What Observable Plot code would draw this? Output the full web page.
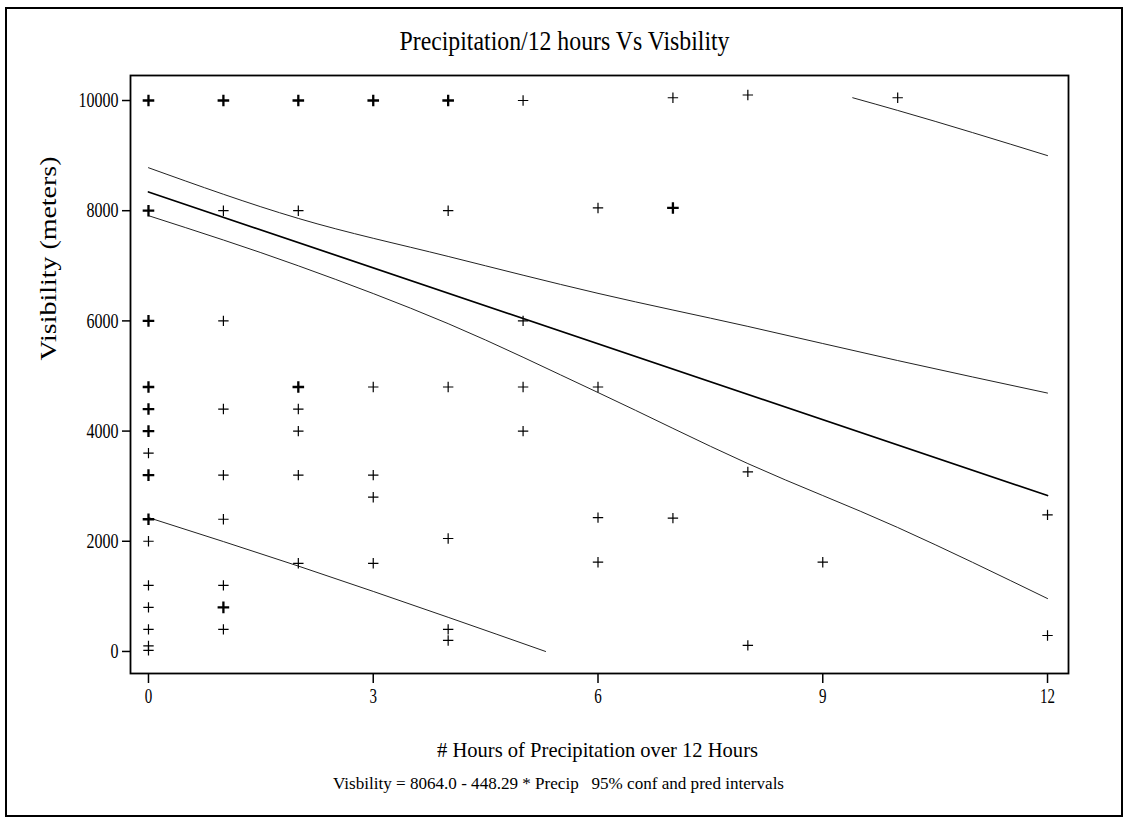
<!DOCTYPE html>
<html>
<head>
<meta charset="utf-8">
<script src="https://cdn.jsdelivr.net/npm/d3@7"></script>
<script src="https://cdn.jsdelivr.net/npm/@observablehq/plot@0.6"></script>
<style>
  html, body { margin: 0; padding: 0; background: white; }
  #wrap { position: relative; width: 1127px; height: 818px; }
  #border { position: absolute; left: 5px; top: 7px; width: 1118px; height: 810px; box-sizing: border-box; border: 2px solid black; pointer-events: none; }
  #wrap svg { position: absolute; left: 0; top: 0; }
  #wrap svg text.ytick { font-size: 21px !important; }
  #wrap svg text.xtick { font-size: 20px !important; }
</style>
</head>
<body>
<div id="wrap"><div id="border"></div></div>
<script>
// ---- data ----
const precip = [
  0,0,0,0,0,0,0,0,0,0,0,0,0,0,0,
  1,1,1,1,1,1,1,1,1,
  2,2,2,2,2,2,2,
  3,3,3,3,3,
  4,4,4,4,4,4,
  5,5,5,5,
  6,6,6,6,
  7,7,7,
  8,8,8,
  9,
  10,
  12,12
];
const visibility = [
  10000,8000,6000,4800,4400,4000,3600,3200,2400,2000,1200,800,400,100,20,
  10000,8000,6000,4400,3200,2400,1200,800,400,
  10000,8000,4800,4400,4000,3200,1600,
  10000,4800,3200,2800,1600,
  10000,8000,4800,2050,400,200,
  10000,6000,4800,4000,
  8050,4800,2430,1620,
  10050,8050,2420,
  10100,3260,110,
  1620,
  10050,
  2480,290
];
// number of overlapping observations drawn at each point (bold pluses)
const overlap = [
  2,2,2,2,2,2,1,2,2,1,1,1,1,1,1,
  2,1,1,1,1,1,1,2,1,
  2,1,2,1,1,1,1,
  2,1,1,1,1,
  2,1,1,1,1,1,
  1,1,1,1,
  1,1,1,1,
  1,2,1,
  1,1,1,
  1,
  1,
  1,1
];

// regression line and 95% confidence / prediction limits
const fitX = [0, 12];
const fitY = [8340, 2830];
const confX = [0, 2, 4, 6, 8, 10, 12];
const confUpper = [8780, 7860, 7170, 6500, 5900, 5280, 4690];
const confLower = [7910, 7000, 5950, 4700, 3410, 2250, 960];
const predLowerX = [0, 2, 4, 5.3];
const predLower = [2430, 1550, 620, 0];
const predUpperX = [9.4, 10, 12];
const predUpper = [10050, 9820, 9000];

const xTicks = [0, 3, 6, 9, 12];
const yTicks = [0, 2000, 4000, 6000, 8000, 10000];

const titleText = "Precipitation/12 hours Vs Visbility";
const xLabel = "# Hours of Precipitation over 12 Hours";
const yLabel = "Visibility (meters)";
const captionText = "Visbility = 8064.0 - 448.29 * Precip\u00a0\u00a0\u00a095% conf and pred intervals";

// ---- build tables ----
const points = precip.map((x, i) => ({x, y: visibility[i], n: overlap[i]}));
const fit = fitX.map((x, i) => ({x, y: fitY[i]}));
const cu = confX.map((x, i) => ({x, y: confUpper[i]}));
const cl = confX.map((x, i) => ({x, y: confLower[i]}));
const pl = predLowerX.map((x, i) => ({x, y: predLower[i]}));
const pu = predUpperX.map((x, i) => ({x, y: predUpper[i]}));

const plusSymbol = {
  draw(ctx, size) {
    const r = Math.sqrt(size / Math.PI);
    ctx.moveTo(-r, 0); ctx.lineTo(r, 0);
    ctx.moveTo(0, -r); ctx.lineTo(0, r);
  }
};

const font = "'Liberation Serif', 'DejaVu Serif', serif";

const chart = Plot.plot({
  width: 1127,
  height: 818,
  marginTop: 75,
  marginRight: 59,
  marginBottom: 145,
  marginLeft: 130,
  style: {fontFamily: font, fontSize: "18px", background: "transparent", color: "black"},
  x: {domain: [-0.24, 12.28], ticks: xTicks, tickSize: 10, tickPadding: 5, tickFormat: d => String(d), label: null},
  y: {domain: [-400, 10454], ticks: yTicks, tickSize: 8, tickPadding: 4, tickFormat: d => String(d), label: null},
  marks: [
    Plot.frame({stroke: "black", strokeWidth: 1.8}),
    Plot.line(cu, {x: "x", y: "y", stroke: "#222", strokeWidth: 1, curve: "monotone-x"}),
    Plot.line(cl, {x: "x", y: "y", stroke: "#222", strokeWidth: 1, curve: "monotone-x"}),
    Plot.line(pl, {x: "x", y: "y", stroke: "#222", strokeWidth: 1, curve: "monotone-x"}),
    Plot.line(pu, {x: "x", y: "y", stroke: "#222", strokeWidth: 1, curve: "monotone-x"}),
    Plot.line(fit, {x: "x", y: "y", stroke: "black", strokeWidth: 1.7}),
    Plot.dot(points.filter(d => d.n === 1), {x: "x", y: "y", symbol: plusSymbol, r: 5.2, stroke: "black", fill: "none", strokeWidth: 1.2}),
    Plot.dot(points.filter(d => d.n > 1), {x: "x", y: "y", symbol: plusSymbol, r: 5.8, stroke: "black", fill: "none", strokeWidth: 2.3}),
    Plot.text([titleText], {text: d => d, frameAnchor: "top", dx: -35, dy: -26, lineAnchor: "bottom", fontSize: 28, fill: "black"}),
    Plot.text([xLabel], {text: d => d, frameAnchor: "bottom", dx: -2, dy: 83, lineAnchor: "bottom", fontSize: 22, fill: "black"}),
    Plot.text([captionText], {text: d => d, frameAnchor: "bottom", dx: -41, dy: 115, lineAnchor: "bottom", fontSize: 16, fill: "black"}),
    Plot.text([yLabel], {text: d => d, frameAnchor: "left", dx: -75, dy: -14, rotate: -90, lineAnchor: "bottom", fontSize: 23, fill: "black"})
  ]
});

document.getElementById("wrap").insertBefore(chart, document.getElementById("border"));

// fit text widths to the reference (condensed serif)
const widths = new Map([[titleText, 330], [xLabel, 321], [captionText, 451], [yLabel, 204]]);
const yTickStrings = yTicks.map(String);
const xTickStrings = xTicks.map(String);
chart.querySelectorAll("text").forEach(el => {
  const t = el.textContent.trim();
  if (widths.has(el.textContent)) {
    el.setAttribute("textLength", widths.get(el.textContent));
    el.setAttribute("lengthAdjust", "spacingAndGlyphs");
    return;
  }
  const anchorEl = el.closest("[text-anchor]");
  const anchor = anchorEl ? anchorEl.getAttribute("text-anchor") : "";
  if (anchor === "end" && yTickStrings.includes(t)) {
    el.classList.add("ytick");
    el.setAttribute("textLength", 8 * t.length);
    el.setAttribute("lengthAdjust", "spacingAndGlyphs");
  } else if (xTickStrings.includes(t)) {
    el.classList.add("xtick");
    el.setAttribute("textLength", 7.5 * t.length);
    el.setAttribute("lengthAdjust", "spacingAndGlyphs");
  }
});
chart.querySelectorAll("[aria-label$='tick'] path").forEach(p => p.setAttribute("stroke-width", 1.5));
</script>
</body>
</html>
